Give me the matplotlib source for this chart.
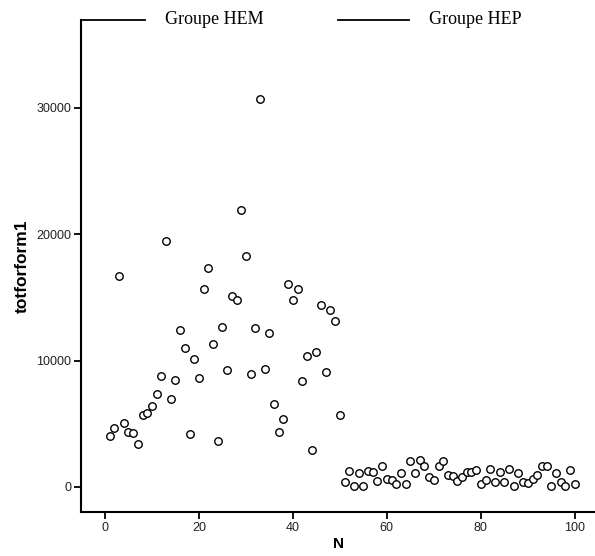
import numpy as np
import matplotlib
matplotlib.use("Agg")
import matplotlib.pyplot as plt
from matplotlib.lines import Line2D

# case number (N) and totforform1 values
n_hem = np.arange(1, 51)
tot_hem = [4050, 4650, 16700, 5070, 4330, 4270, 3380, 5700, 5880, 6440,
           7360, 8810, 19500, 6940, 8500, 12460, 11010, 4170, 10160, 8630,
           15680, 17300, 11320, 3640, 12670, 9240, 15150, 14830, 21900, 18300,
           8970, 12590, 30700, 9370, 12190, 6550, 4350, 5410, 16070, 14830,
           15680, 8420, 10350, 2950, 10710, 14410, 9130, 13990, 13140, 5700]

n_hep = np.arange(51, 101)
tot_hep = [370, 1290, 100, 1080, 100, 1290, 1190, 470, 1690, 630,
           550, 240, 1080, 210, 2030, 1080, 2140, 1660, 790, 550,
           1660, 2030, 950, 850, 500, 790, 1210, 1210, 1320, 210,
           550, 1430, 370, 1210, 370, 1430, 80, 1080, 420, 320,
           660, 950, 1660, 1660, 80, 1080, 420, 80, 1320, 210]

groups = ["Groupe HEM", "Groupe HEP"]
xticks = [0, 20, 40, 60, 80, 100]
yticks = [0, 10000, 20000, 30000]

fig = plt.figure(figsize=(5.95, 5.56), dpi=100)
ax = fig.add_axes([81 / 595, 44 / 556, 514 / 595, 492 / 556])

for n, tot in [(n_hem, tot_hem), (n_hep, tot_hep)]:
    ax.plot(n, tot, linestyle="none", marker="o", ms=5.4, mfc="white",
            mec="black", mew=1.0)

ax.set_xlim(-5.1, 104.3)
ax.set_ylim(-1980, 36950)
ax.set_xticks(xticks)
ax.set_yticks(yticks)

for side in ["top", "right"]:
    ax.spines[side].set_visible(False)
for side in ["left", "bottom"]:
    ax.spines[side].set_linewidth(1.5)
ax.tick_params(direction="out", length=5, width=1.3, labelsize=9,
               labelcolor="#222222", pad=2)
for lab in ax.get_xticklabels() + ax.get_yticklabels():
    lab.set_family("Liberation Sans")

ax.set_xlabel("N", fontsize=11, fontweight="bold", family="Liberation Sans",
              labelpad=2)
ax.set_ylabel("totforform1", fontsize=12.5, fontweight="bold",
              family="Liberation Sans", labelpad=5)

# legend row along the top edge
y_leg = 1 - 20 / 556
fig.add_artist(Line2D([81 / 595, 145 / 595], [y_leg, y_leg], color="black",
                      lw=1.3))
fig.text(165 / 595, y_leg, groups[0], family="Liberation Serif", fontsize=13,
         va="center", ha="left")
fig.add_artist(Line2D([338 / 595, 409 / 595], [y_leg, y_leg], color="black",
                      lw=1.3))
fig.text(429 / 595, y_leg, groups[1], family="Liberation Serif", fontsize=13,
         va="center", ha="left")

fig.savefig("out.png", dpi=100)
